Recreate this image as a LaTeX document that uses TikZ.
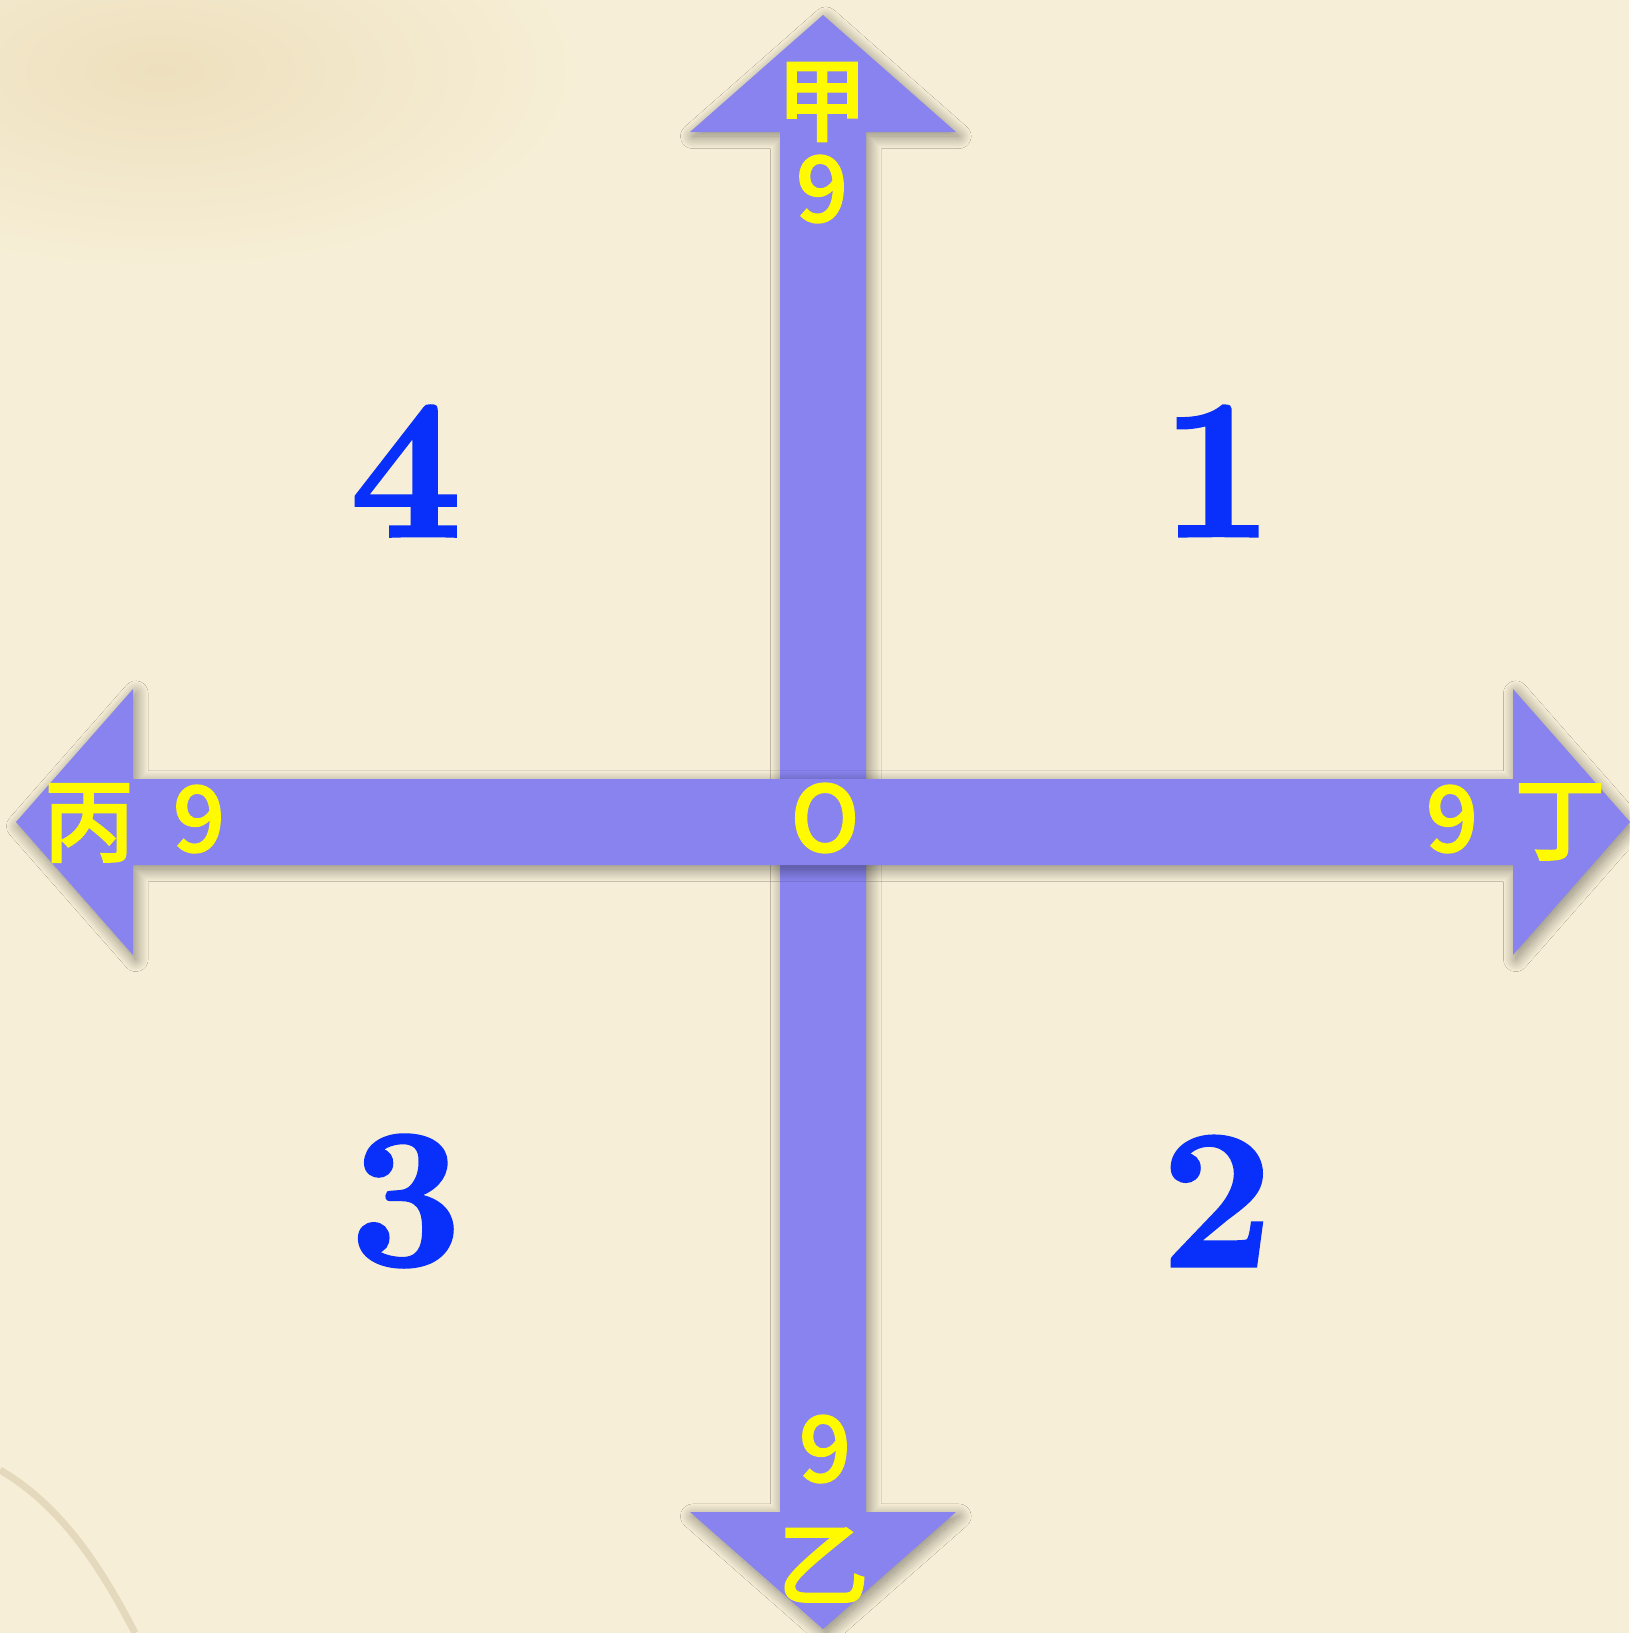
\documentclass[tikz,border=0pt]{standalone}
\usepackage{fontspec}
\usetikzlibrary{shadows.blur}
\newfontfamily\cjk{Noto Sans CJK SC}[UprightFont=* Medium,FakeBold=1.5]
\newfontfamily\quadfont{Latin Modern Roman}[FakeBold=2]
\definecolor{paper}{RGB}{246,238,214}
\definecolor{paperstain}{RGB}{238,224,190}
\definecolor{stainbrown}{RGB}{150,118,80}
\definecolor{axisviolet}{RGB}{136,131,238}
\definecolor{labelyellow}{RGB}{255,250,0}
\definecolor{quadblue}{RGB}{8,48,250}
\tikzset{
  axisbar/.style={fill=axisviolet,
    blur shadow={shadow xshift=0.8pt,shadow yshift=-1.2pt,
      shadow blur radius=3.5pt,shadow blur steps=30,shadow opacity=45}},
  axislabel/.style={text=labelyellow,inner sep=0pt,
    font=\cjk\fontsize{26}{26}\selectfont},
  quadnum/.style={text=quadblue,inner sep=0pt,
    font=\quadfont\bfseries\fontsize{56}{56}\selectfont},
  axisarrow/.pic={
    \path[axisbar] (-807,0) -- (-690,-133) -- (-690,-43) -- (690,-43)
      -- (690,-133) -- (807,0) -- (690,133) -- (690,43) -- (-690,43)
      -- (-690,133) -- cycle;
  }
}
\begin{document}
\begin{tikzpicture}[x=0.01cm,y=-0.01cm]
  % paper
  \fill[paper] (0,0) rectangle (1629,1633);
  \useasboundingbox (0,0) rectangle (1629,1633);
  \shade[inner color=paperstain,outer color=paper] (160,70) ellipse (420 and 200);
  \draw[stainbrown,opacity=0.18,line width=2pt]
    (0,1470) .. controls (60,1505) and (100,1565) .. (135,1633);
  % axes
  \coordinate (O) at (823,822);
  \pic[rotate=90] at (O) {axisarrow};
  \pic at (O) {axisarrow};
  % labels on the axes
  \node[axislabel] (jia) at (822,102) {甲};
  \node[axislabel] (jianine) at (822,189) {9};
  \node[axislabel] (yinine) at (825,1449) {9};
  \node[axislabel] (yi) at (823,1565) {乙};
  \node[axislabel] (bing) at (89,823) {丙};
  \node[axislabel] (bingnine) at (199,819) {9};
  \node[axislabel] (dingnine) at (1452,819) {9};
  \node[axislabel] (ding) at (1560,822) {丁};
  \node[axislabel] (origin) at (825,818) {O};
  % quadrants
  \node[quadnum] (q1) at (1217,471) {1};
  \node[quadnum] (q2) at (1217,1201) {2};
  \node[quadnum] (q3) at (406,1201) {3};
  \node[quadnum] (q4) at (406,471) {4};
\end{tikzpicture}
\end{document}
